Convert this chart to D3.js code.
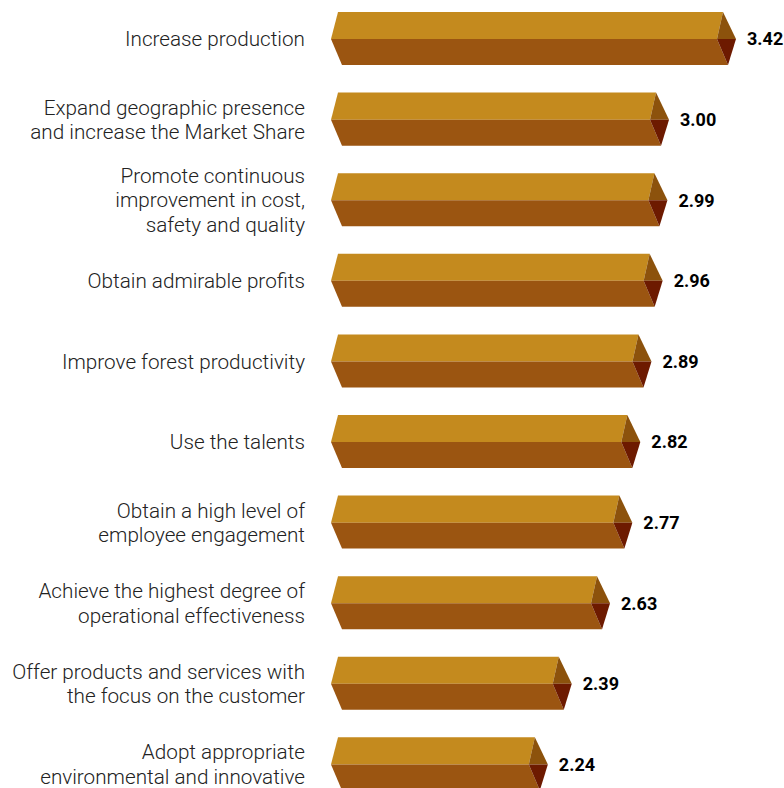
<!DOCTYPE html>
<html>
<head>
<meta charset="utf-8">
<script src="https://cdn.jsdelivr.net/npm/d3@7"></script>
<style>
  body { margin: 0; background: #fff; }
  svg { display: block; }
</style>
</head>
<body>
<div id="chart"></div>
<script>
// categories (each label split into its lines)
const categories = [
  ["Increase production"],
  ["Expand geographic presence", "and increase the Market Share"],
  ["Promote continuous", "improvement in cost,", "safety and quality"],
  ["Obtain admirable profits"],
  ["Improve forest productivity"],
  ["Use the talents"],
  ["Obtain a high level of", "employee engagement"],
  ["Achieve the highest degree of", "operational effectiveness"],
  ["Offer products and services with", "the focus on the customer"],
  ["Adopt appropriate", "environmental and innovative"]
]
const values = [3.42, 3.00, 2.99, 2.96, 2.89, 2.82, 2.77, 2.63, 2.39, 2.24]
const valueLabels = ["3.42", "3.00", "2.99", "2.96", "2.89", "2.82", "2.77", "2.63", "2.39", "2.24"]

const data = values.map((v, i) => ({id: i, lines: categories[i], value: v, label: valueLabels[i]}))

const width = 784, height = 788

const svg = d3.select('#chart')
  .append('svg')
  .attr('width', width)
  .attr('height', height)

// bars start at x=331; the scale's base is not zero in the original
const x = d3.scaleLinear()
  .domain([0.88, 3.42])
  .range([331, 736])

const y = d3.scaleBand()
  .domain(data.map(d => d.id))
  .range([12, 790.4])
  .paddingInner(0.342)
  .paddingOuter(0)

const colors = {
  top: '#c48a1e',
  bottom: '#9b5511',
  capTop: '#8c520c',
  capBottom: '#6d1a00'
}

const bars = svg.selectAll('g.bar')
  .data(data)
  .join('g')
  .attr('class', 'bar')

// shape pieces of the prism, relative to band top / start / tip
function pts(d) {
  const t = y(d.id), h = y.bandwidth(), m = t + h * 0.51, b = t + h
  const x0 = x.range()[0], tip = x(d.value)
  return {
    top: [[x0 + 7, t], [tip - 13, t], [tip - 19, m], [x0, m]],
    bottom: [[x0, m], [tip - 19, m], [tip - 8, b], [x0 + 11, b]],
    capTop: [[tip - 13, t], [tip, m], [tip - 19, m]],
    capBottom: [[tip - 19, m], [tip, m], [tip - 8, b]]
  }
}

const line = d3.line()

;['top', 'bottom', 'capTop', 'capBottom'].forEach(part => {
  bars.append('path')
    .attr('d', d => line(pts(d)[part]) + 'Z')
    .attr('fill', colors[part])
})

// value labels
bars.append('text')
  .attr('x', d => x(d.value) + 11)
  .attr('y', d => y(d.id) + y.bandwidth() * 0.51)
  .attr('dy', '0.35em')
  .style('font-family', 'Roboto, sans-serif')
  .style('font-weight', 'bold')
  .style('font-size', '18px')
  .style('fill', '#000')
  .text(d => d.label)

// category labels, right aligned and centered on the bar
const lh = 24.5
bars.append('text')
  .attr('text-anchor', 'end')
  .style('font-family', 'Roboto, sans-serif')
  .style('font-weight', 300)
  .style('font-size', '20.7px')
  .style('fill', '#222')
  .each(function (d) {
    const cy = y(d.id) + y.bandwidth() * 0.51
    const n = d.lines.length
    d3.select(this).selectAll('tspan')
      .data(d.lines)
      .join('tspan')
      .attr('x', 305)
      .attr('y', (l, i) => cy + (i - (n - 1) / 2) * lh)
      .attr('dy', '0.35em')
      .text(l => l)
  })
</script>
</body>
</html>
